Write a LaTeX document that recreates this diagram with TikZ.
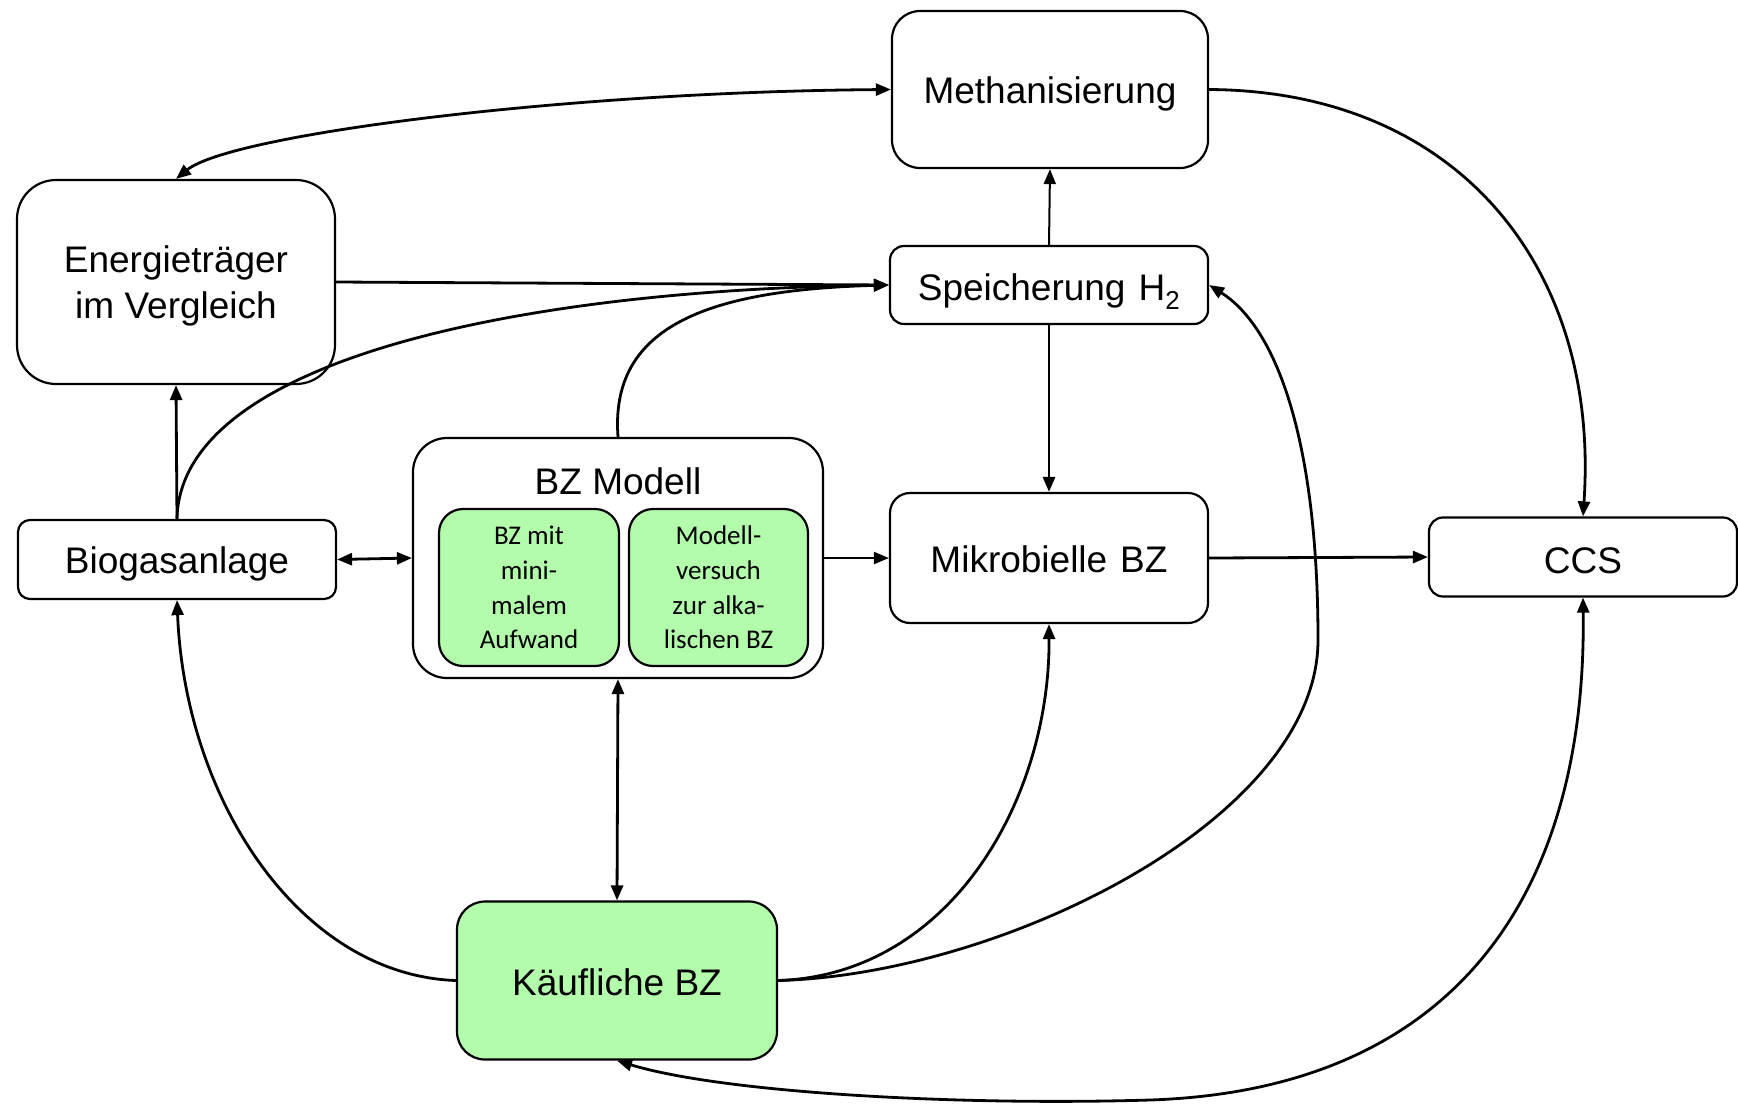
\documentclass[tikz,border=0pt]{standalone}
\usepackage{fontspec}
\setmainfont{Liberation Sans}
\newfontfamily\calib{Carlito}
\usetikzlibrary{arrows.meta}
\definecolor{bzgreen}{RGB}{178,252,172}
\begin{document}
\begin{tikzpicture}[x=1pt,y=-1pt,
  box/.style={draw, line width=2.2pt, inner sep=0pt, align=center, font=\fontsize{37}{46}\selectfont},
  greenbox/.style={box, fill=bzgreen},
  small/.style={font=\calib\fontsize{27}{34.7}\selectfont},
  conn/.style={line width=2.8pt, -{Triangle[length=15pt,width=12pt]}},
  biconn/.style={line width=2.8pt, {Triangle[length=15pt,width=12pt]}-{Triangle[length=15pt,width=12pt]}},
]
\useasboundingbox (0,0) rectangle (1738,1104);

\node[box, rounded corners=28pt, minimum width=316pt, minimum height=157pt, text height=28pt, text depth=0pt] (meth) at (1050,89.5) {Methanisierung};
\node[box, rounded corners=39pt, minimum width=318pt, minimum height=204pt, text depth=0pt] (energ) at (176,282) {Energieträger\\im Vergleich};
\node[box, rounded corners=14pt, minimum width=318pt, minimum height=78pt, text height=30pt, text depth=0pt] (speich) at (1049,285) {Speicherung\hspace{0.35em}H\textsubscript{2}};
\node[box, rounded corners=34pt, minimum width=410pt, minimum height=240pt] (bzm) at (618,558) {};
\node[anchor=base, inner sep=0pt, font=\fontsize{37}{46}\selectfont] (bzmt) at (618,494) {BZ Modell};
\node[greenbox, small, rounded corners=24pt, minimum width=180pt, minimum height=157pt] (g1) at (529,587.5) {BZ mit\\mini-\\malem\\Aufwand};
\node[greenbox, small, rounded corners=24pt, minimum width=179pt, minimum height=157pt] (g2) at (718.5,587.5) {Modell-\\versuch\\zur alka-\\lischen BZ};
\node[box, rounded corners=12pt, minimum width=318pt, minimum height=79pt, text height=28pt, text depth=0pt] (bio) at (177,559.5) {Biogasanlage};
\node[box, rounded corners=20pt, minimum width=318pt, minimum height=130pt, text height=29pt, text depth=0pt] (mikro) at (1049,558) {Mikrobielle\hspace{0.35em}BZ};
\node[box, rounded corners=14pt, minimum width=308pt, minimum height=79pt, text height=32pt, text depth=0pt] (ccs) at (1583,557) {CCS};
\node[greenbox, rounded corners=28pt, minimum width=320pt, minimum height=158pt, text height=29pt, text depth=0pt] (kauf) at (617,980.5) {Käufliche BZ};

\draw[biconn] (meth.west) .. controls (560,92) and (230,135) .. (energ.north);
\draw[conn] (meth.east) .. controls (1460,91) and (1600,270) .. (ccs.north);
\draw[conn, line width=2pt] (speich.north) -- (meth.south);
\draw[conn] (speich.south) -- (mikro.north);
\draw[conn] (energ.east) -- (speich.west);
\draw[conn] (bio.north) -- (energ.south);
\draw[conn] (bio.north) .. controls (180,360) and (520,290) .. (speich.west);
\draw[conn] (bzm.north) .. controls (610,330) and (700,290) .. (speich.west);
\draw[biconn] (bio.east) -- (bzm.west);
\draw[conn, line width=2pt] (bzm.east) -- (mikro.west);
\draw[conn] (mikro.east) -- (ccs.west);
\draw[biconn] (bzm.south) -- (kauf.north);
\draw[conn] (kauf.west) .. controls (300,975) and (185,800) .. (bio.south);
\draw[conn] (kauf.east) .. controls (950,975) and (1050,800) .. (mikro.south);
\draw[conn] (kauf.east) .. controls (1000,975) and (1318,820) .. (1318,640) .. controls (1318,450) and (1280,330) .. (speich.east);
\draw[biconn] (ccs.south) .. controls (1587,900) and (1450,1090) .. (1150,1100) .. controls (950,1106) and (720,1092) .. (kauf.south);
\end{tikzpicture}
\end{document}
